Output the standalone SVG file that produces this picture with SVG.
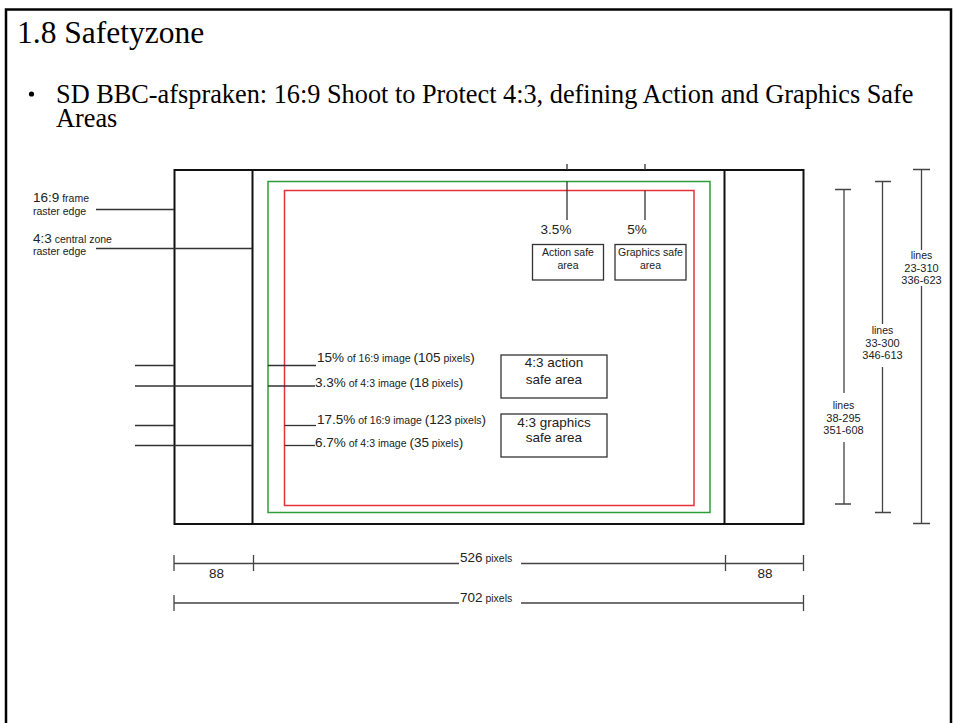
<svg xmlns="http://www.w3.org/2000/svg" width="953" height="723" viewBox="0 0 953 723">
<style>
.serif{font-family:"Liberation Serif","Times New Roman",serif;fill:#000}
.sans{font-family:"Liberation Sans",Arial,sans-serif;fill:#222}
.b{font-size:13.5px}
.s{font-size:10.5px}
.frame{fill:none;stroke:#111;stroke-width:2}
.green{fill:none;stroke:#2e9e3a;stroke-width:1.5}
.red{fill:none;stroke:#e8323a;stroke-width:1.5}
.ln{stroke:#333;stroke-width:1.3;fill:none}
.box{fill:#fff;stroke:#333;stroke-width:1.3}
.dim{stroke:#444;stroke-width:1.3;fill:none}
</style>
<rect width="953" height="723" fill="#fff"/>
<path d="M6,723 V9.5 H951 V723" fill="none" stroke="#000" stroke-width="2.5"/>
<g id="title">
<text class="serif" x="17" y="43" font-size="31.5">1.8 Safetyzone</text>
</g>
<g id="bullet">
<circle cx="31.5" cy="94" r="2.6" fill="#000"/>
<text class="serif" x="56" y="103" font-size="26.3">SD BBC-afspraken: 16:9 Shoot to Protect 4:3, defining Action and Graphics Safe</text>
<text class="serif" x="56" y="127" font-size="26.3">Areas</text>
</g>
<g id="frame169">
<rect class="frame" x="174.5" y="170" width="629" height="354"/>
</g>
<g id="zone43">
<line class="frame" x1="252.5" y1="170" x2="252.5" y2="524"/>
<line class="frame" x1="724.5" y1="170" x2="724.5" y2="524"/>
</g>
<g id="action-safe">
<rect class="green" x="268" y="181.5" width="442" height="331"/>
</g>
<g id="graphics-safe">
<rect class="red" x="284.5" y="190.5" width="409.5" height="315"/>
</g>
<g id="connectors">
<line class="ln" x1="96" y1="209.5" x2="174" y2="209.5"/>
<line class="ln" x1="96" y1="248.5" x2="252" y2="248.5"/>
<line class="ln" x1="567" y1="164" x2="567" y2="170"/>
<line class="ln" x1="645" y1="164" x2="645" y2="170"/>
<line class="ln" x1="567" y1="181.5" x2="567" y2="220"/>
<line class="ln" x1="645" y1="190.5" x2="645" y2="220"/>
<line class="ln" x1="135" y1="365.5" x2="174" y2="365.5"/>
<line class="ln" x1="268" y1="365.5" x2="316" y2="365.5"/>
<line class="ln" x1="135" y1="386" x2="252" y2="386"/>
<line class="ln" x1="268" y1="386" x2="315" y2="386"/>
<line class="ln" x1="135" y1="425.5" x2="174" y2="425.5"/>
<line class="ln" x1="284.5" y1="425.5" x2="316" y2="425.5"/>
<line class="ln" x1="135" y1="445.5" x2="252" y2="445.5"/>
<line class="ln" x1="284.5" y1="445.5" x2="315" y2="445.5"/>
</g>
<g id="label-169-frame">
<text class="sans" x="33" y="202"><tspan class="b">16:9</tspan><tspan class="s"> frame</tspan></text>
<text class="sans s" x="33" y="215">raster edge</text>
</g>
<g id="label-43-zone">
<text class="sans" x="33" y="242.5"><tspan class="b">4:3</tspan><tspan class="s"> central zone</tspan></text>
<text class="sans s" x="33" y="255">raster edge</text>
</g>
<g id="action-safe-label">
<text class="sans b" x="556" y="234" text-anchor="middle">3.5%</text>
<rect class="box" x="532.5" y="244.5" width="71" height="35.5"/>
<text class="sans s" x="568" y="256" text-anchor="middle">Action safe</text>
<text class="sans s" x="568" y="269" text-anchor="middle">area</text>
</g>
<g id="graphics-safe-label">
<text class="sans b" x="637" y="234" text-anchor="middle">5%</text>
<rect class="box" x="615" y="244.5" width="71" height="35.5"/>
<text class="sans s" x="650.5" y="256" text-anchor="middle">Graphics safe</text>
<text class="sans s" x="650.5" y="269" text-anchor="middle">area</text>
</g>
<g id="pct-labels">
<text class="sans s" x="317" y="362"><tspan class="b">15%</tspan> of 16:9 image <tspan class="b">(105</tspan> pixels<tspan class="b">)</tspan></text>
<text class="sans s" x="315" y="387"><tspan class="b">3.3%</tspan> of 4:3 image <tspan class="b">(18</tspan> pixels<tspan class="b">)</tspan></text>
<text class="sans s" x="317" y="423.5"><tspan class="b">17.5%</tspan> of 16:9 image <tspan class="b">(123</tspan> pixels<tspan class="b">)</tspan></text>
<text class="sans s" x="315" y="446.5"><tspan class="b">6.7%</tspan> of 4:3 image <tspan class="b">(35</tspan> pixels<tspan class="b">)</tspan></text>
</g>
<g id="box-43-action">
<rect class="box" x="501" y="355" width="106" height="43"/>
<text class="sans b" x="554" y="367" text-anchor="middle">4:3 action</text>
<text class="sans b" x="554" y="383.5" text-anchor="middle">safe area</text>
</g>
<g id="box-43-graphics">
<rect class="box" x="501" y="414" width="106" height="43"/>
<text class="sans b" x="554" y="426.5" text-anchor="middle">4:3 graphics</text>
<text class="sans b" x="554" y="442" text-anchor="middle">safe area</text>
</g>
<g id="dim-horizontal">
<path class="dim" d="M174,563.5 H459 M521,563.5 H803.5 M174,555 V571 M253.5,555 V571 M725.5,555 V571 M803.5,555 V571"/>
<text class="sans" x="460" y="562"><tspan class="b">526</tspan><tspan class="s"> pixels</tspan></text>
<text class="sans b" x="216.5" y="578" text-anchor="middle">88</text>
<text class="sans b" x="765" y="578" text-anchor="middle">88</text>
<path class="dim" d="M174,603 H459 M521,603 H803.5 M174,595 V611 M803.5,595 V611"/>
<text class="sans" x="460" y="601.5"><tspan class="b">702</tspan><tspan class="s"> pixels</tspan></text>
</g>
<g id="dim-vertical">
<path class="dim" d="M844,189.5 V393 M844,442 V504 M835,189.5 H851 M835,504 H851"/>
<text class="sans s" x="843.5" y="409" text-anchor="middle">lines</text>
<text class="sans" font-size="11" x="843.5" y="421.5" text-anchor="middle">38-295</text>
<text class="sans" font-size="11" x="843.5" y="434" text-anchor="middle">351-608</text>
<path class="dim" d="M882.5,181.5 V324 M882.5,367 V512.5 M875,181.5 H891 M875,512.5 H891"/>
<text class="sans s" x="882.5" y="334" text-anchor="middle">lines</text>
<text class="sans" font-size="11" x="882.5" y="346.5" text-anchor="middle">33-300</text>
<text class="sans" font-size="11" x="882.5" y="359" text-anchor="middle">346-613</text>
<path class="dim" d="M921.5,169.5 V250 M921.5,286 V523.5 M913,169.5 H930 M913,523.5 H930"/>
<text class="sans s" x="921.5" y="258.5" text-anchor="middle">lines</text>
<text class="sans" font-size="11" x="921.5" y="271.5" text-anchor="middle">23-310</text>
<text class="sans" font-size="11" x="921.5" y="284" text-anchor="middle">336-623</text>
</g>
</svg>
